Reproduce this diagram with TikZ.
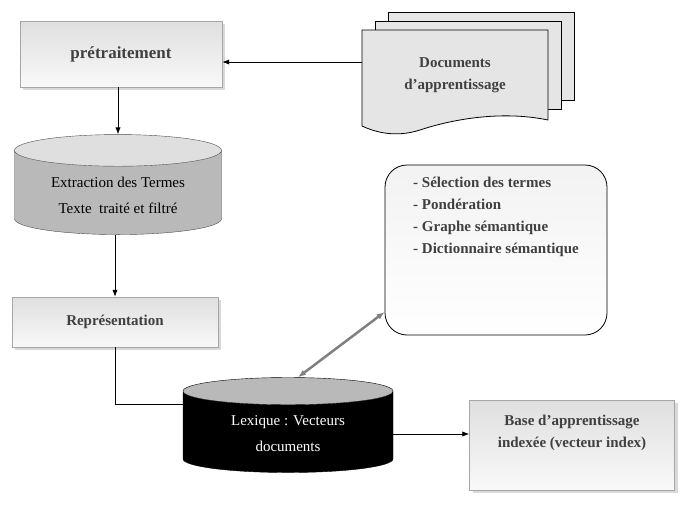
\documentclass[tikz,border=0pt]{standalone}
\usepackage{fontspec}
\setmainfont{Liberation Serif}
\usepackage{tikz}
\usetikzlibrary{arrows.meta,calc,positioning,shapes.geometric,shadows}
\tikzset{
  stepbox/.style={draw=gray!70, top color=gray!25, bottom color=gray!5, drop shadow={opacity=0.3}, font=\bfseries, text=black!75},
  docpage/.style={draw, thick, fill=gray!20},
  flow/.style={-{Latex[length=7pt]}, thick},
}
\begin{document}
\begin{tikzpicture}[x=1pt,y=-1pt]
    \useasboundingbox (0,0) rectangle (686,514);
    \fontsize{15}{18}\selectfont
    % top row
    \node[stepbox, minimum width=202pt, minimum height=66pt] (pre) at (121,54) {\fontsize{17}{20}\selectfont prétraitement};
    % Document stack
    \foreach \dx/\dy in {26/-18,13/-9} {
        \draw[docpage] ($(362,30)+(\dx,\dy)$) rectangle ($(548,118)+(\dx,\dy)$);
    }
    \draw[docpage] (362,30) -- (548,30) -- (548,120) .. controls (500,110) and (450,120) .. (420,130) .. controls (395,138) and (375,132) .. (362,126) -- cycle;
    \node[font=\bfseries, text=black!75, align=center] (docs) at (455,75) {Documents\\[4pt]d’apprentissage};
    \coordinate (docin) at (362,62);
    \draw[flow] (docin) -- (pre.east |- docin);
    % left column
    \node[cylinder, shape border rotate=90, aspect=0.22, draw=gray!60!black, cylinder uses custom fill, cylinder body fill=gray!55, cylinder end fill=gray!25, minimum width=207pt, minimum height=100pt, align=center, text=black] (ext) at (118,195) {Extraction des Termes\\[8pt]Texte\ \ traité et filtré};
    \draw[flow] (pre.south -| ext.north) -- (ext.north);
    \node[stepbox, minimum width=206pt, minimum height=50pt] (rep) at (115,322) {Représentation};
    \draw[flow] (ext.south -| rep.north) -- (rep.north);
    % rounded list box
    \node[draw, thick, rounded corners=22pt, top color=gray!10, bottom color=white, minimum width=222pt, minimum height=170pt, align=left, text=black!75, font=\bfseries, text depth=70pt] (list) at (496,250) {- Sélection des termes\\[4pt]- Pondération\\[4pt]- Graphe sémantique\\[4pt]- Dictionnaire sémantique};
    % bottom row
    \node[cylinder, shape border rotate=90, aspect=0.22, draw=black, cylinder uses custom fill, cylinder body fill=black, cylinder end fill=gray!55, minimum width=210pt, minimum height=95pt, align=center, text=white] (lex) at (288,434) {Lexique : Vecteurs\\[8pt]documents};
    \node[stepbox, minimum width=205pt, minimum height=90pt, align=center, text depth=28pt] (base) at (572,445) {Base d’apprentissage\\[4pt]indexée (vecteur index)};
    \draw[thick] (rep.south) |- ($(lex.west)+(0,-30)$);
    \draw[flow] (lex.east) -- (base.west |- lex.east);
    \draw[{Latex[length=8pt]}-{Latex[length=8pt]}, line width=2.5pt, gray] ($(lex.north)+(10,0)$) -- (list.south west |- 0,312);
\end{tikzpicture}
\end{document}
